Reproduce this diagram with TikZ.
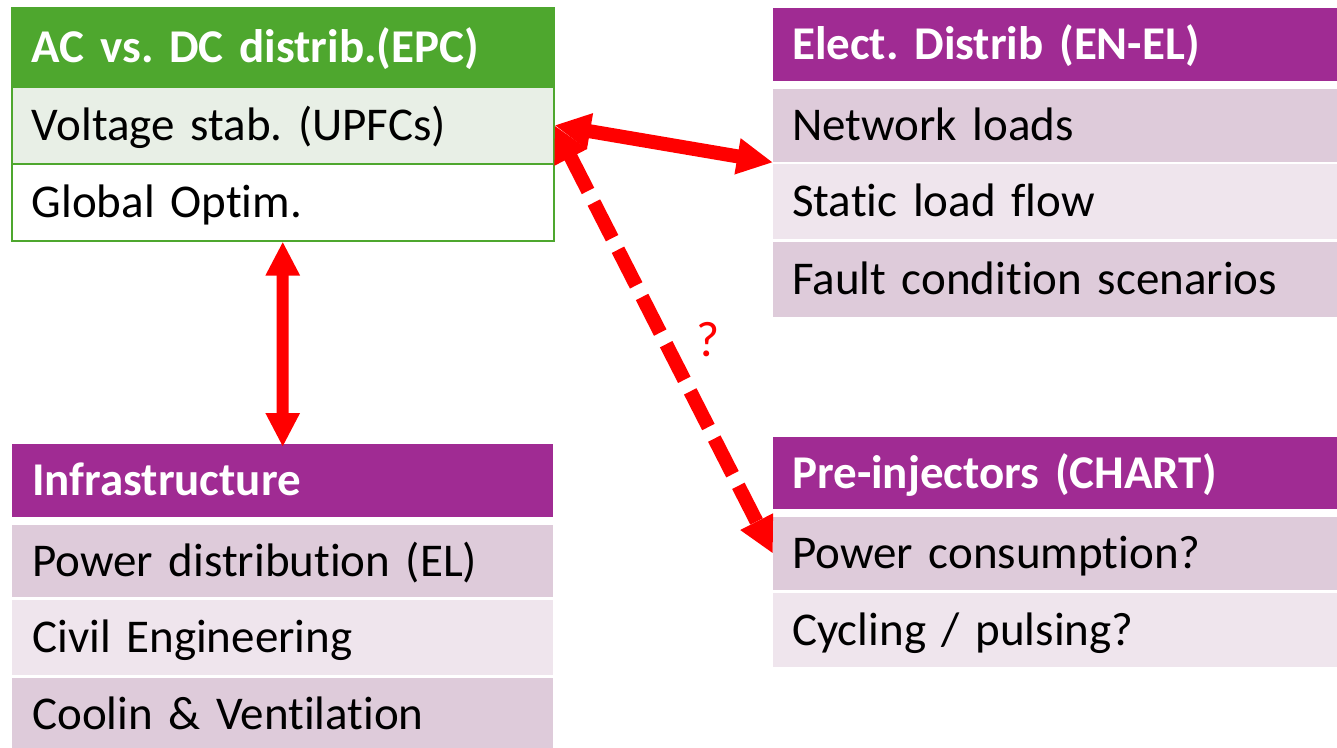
\documentclass[tikz,border=0pt]{standalone}
\usepackage{fontspec}
\setmainfont{Carlito}[Ligatures=NoCommon]
\usetikzlibrary{arrows.meta}
\definecolor{grn}{RGB}{78,167,46}
\definecolor{lgrn}{RGB}{232,239,230}
\definecolor{purp}{RGB}{160,43,147}
\definecolor{rowdk}{RGB}{222,203,218}
\definecolor{rowlt}{RGB}{239,229,237}
\definecolor{arr}{RGB}{255,0,0}
\tikzset{
  cell/.style={anchor=north west, inner xsep=20pt, inner ysep=0pt, align=left,
    text height=30pt, text depth=0pt, font=\fontsize{47}{52}\selectfont},
  gcell/.style={cell, draw=grn, line width=1.5pt},
  hdr/.style={cell, font=\fontsize{47}{52}\selectfont\bfseries, text=white},
  link/.style={draw=arr, line width=14pt},
}
\begin{document}
\frenchspacing
\begin{tikzpicture}[x=1pt,y=-1pt]
\useasboundingbox (0,0) rectangle (1337,747);
% AC vs DC
\node[gcell, hdr, fill=grn, text width=502pt, minimum height=79pt] (gh) at (11,7) {AC vs. DC distrib.(EPC)};
\node[gcell, fill=lgrn, text width=502pt, minimum height=77pt] (g1) at (11,86) {Voltage stab. (UPFCs)};
\node[gcell, fill=white, text width=502pt, minimum height=77pt] (g2) at (11,163) {Global Optim.};
% Elect distrib
\node[hdr, fill=purp, text width=526pt, minimum height=73pt, inner xsep=19pt] (eh) at (773,8) {Elect. Distrib (EN-EL)};
\node[cell, fill=rowdk, text width=526pt, minimum height=73pt, inner xsep=19pt] (e1) at (773,89) {Network loads};
\node[cell, fill=rowlt, text width=526pt, minimum height=75pt, inner xsep=19pt] (e2) at (773,164) {Static load flow};
\node[cell, fill=rowdk, text width=526pt, minimum height=75pt, inner xsep=19pt] (e3) at (773,242) {Fault condition scenarios};
% Infrastructure
\node[hdr, fill=purp, text width=501pt, minimum height=73pt] (ih) at (12,444) {Infrastructure};
\node[cell, fill=rowdk, text width=501pt, minimum height=72pt] (i1) at (12,525) {Power distribution (EL)};
\node[cell, fill=rowlt, text width=501pt, minimum height=75pt] (i2) at (12,600) {Civil Engineering};
\node[cell, fill=rowdk, text width=501pt, minimum height=72pt] (i3) at (12,678) {Coolin \& Ventilation};
% Pre-injectors
\node[hdr, fill=purp, text width=526pt, minimum height=72pt, inner xsep=19pt] (ph) at (773,437) {Pre-injectors (CHART)};
\node[cell, fill=rowdk, text width=526pt, minimum height=73pt, inner xsep=19pt] (p1) at (773,517) {Power consumption?};
\node[cell, fill=rowlt, text width=526pt, minimum height=74pt, inner xsep=19pt] (p2) at (773,593) {Cycling / pulsing?};
% connectors
\draw[link, {Triangle[length=36pt,width=34pt]}-{Triangle[length=36pt,width=34pt]}] (g1.east) -- (e1.south west);
\draw[link, line width=12pt, {Triangle[length=34pt,width=32pt]}-{Triangle[length=34pt,width=32pt]}] (g2.south) -- ([yshift=-3pt]ih.north);
\draw[link, dash pattern=on 40pt off 13pt, {Triangle[length=36pt,width=34pt]}-{Triangle[length=36pt,width=34pt]}] (g1.east) -- (p1.west);
\node[text=arr, font=\fontsize{50}{54}\selectfont] (q) at (708,340) {?};
\end{tikzpicture}
\end{document}
